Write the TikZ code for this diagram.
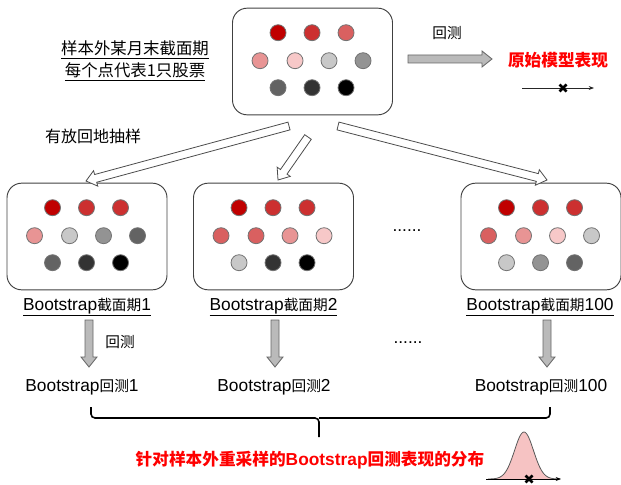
\documentclass[tikz,border=0pt]{standalone}
\usepackage{fontspec}
\setmainfont{Liberation Sans}
\newfontfamily\cjk{Noto Sans CJK SC}
\usetikzlibrary{calc,arrows.meta}

\definecolor{dotA}{HTML}{C00000}
\definecolor{dotB}{HTML}{CC3030}
\definecolor{dotC}{HTML}{D96060}
\definecolor{dotD}{HTML}{E89494}
\definecolor{dotE}{HTML}{F7C8C8}
\definecolor{dotF}{HTML}{C8C8C8}
\definecolor{dotG}{HTML}{939393}
\definecolor{dotH}{HTML}{636363}
\definecolor{dotI}{HTML}{333333}
\definecolor{dotJ}{HTML}{000000}
\definecolor{hlred}{HTML}{FF0000}
\definecolor{distpink}{HTML}{F6C3C3}

\tikzset{
  box/.style={draw=black!75, line width=0.7pt, rounded corners=11pt, minimum width=120pt, minimum height=80pt, inner sep=0pt},
  dot/.style={draw=black!55, line width=0.6pt},
  zh/.style={font=\cjk\fontsize{11}{13}\selectfont},
  lab/.style={font=\fontsize{13}{15}\selectfont, inner sep=1pt},
  hollow/.style={draw=black!70, fill=white, line width=0.6pt},
  grayarr/.style={draw=black!60, fill=black!27, line width=0.6pt},
  brace/.style={line width=1.2pt, rounded corners=3pt},
}
\newcommand\zhs[1]{{\cjk\fontsize{11}{13}\selectfont #1}}
\newcommand\zhb[1]{{\cjk\fontsize{12.5}{15}\selectfont #1}}
% fat block arrow from one named coordinate to another
\def\fatarrow[#1](#2)(#3){%
  \coordinate (fa) at ($(#3)!7.5pt!(#2)$);
  \draw[#1] ($(#2)!3pt!90:(#3)$) -- ($(fa)!3pt!90:(#3)$) -- ($(fa)!6pt!90:(#3)$) -- (#3)
    -- ($(fa)!6pt!-90:(#3)$) -- ($(fa)!3pt!-90:(#3)$) -- ($(#2)!3pt!-90:(#3)$) -- cycle;}
% ten stocks inside a box
\def\stocks(#1)#2{%
  \foreach \c [count=\i] in {#2} {
    \pgfmathsetmacro\dx{{46,80,114,28,63,97,131,46,80,114}[\i-1]}
    \pgfmathsetmacro\dy{{25,25,25,53,53,53,53,80,80,80}[\i-1]}
    \draw[dot, fill=\c] ($(#1.north west)+(\dx,\dy)$) circle (6pt);
  }}
\def\cross(#1,#2){\draw[line width=2pt] (#1-3.5,#2-3.5) -- (#1+3.5,#2+3.5) (#1-3.5,#2+3.5) -- (#1+3.5,#2-3.5);}

\begin{document}
\begin{tikzpicture}[x=0.75pt, y=-0.75pt]
  \useasboundingbox (0,0) rectangle (621,485);

  %%% sample box
  \node[box] (orig) at (312.5,61.5) {};
  \stocks(orig){dotA,dotB,dotC,dotD,dotE,dotF,dotG,dotH,dotI,dotJ}
  \node[zh, font=\cjk\fontsize{12.3}{16.5}\selectfont, align=center] (desc) at (135,61)
    {\underline{样本外某月末截面期}\\\underline{每个点代表1只股票}};

  %%% original backtest
  \coordinate (oa) at (408,59);
  \coordinate (ob) at (492,59);
  \fatarrow[grayarr](oa)(ob)
  \node[zh] (bt0) at (447,33) {回测};
  \node[font=\cjk\bfseries\fontsize{12.5}{15}\selectfont, text=hlred] (perf) at (558,60) {原始模型表现};
  \draw[black!85, line width=0.6pt, -{Stealth[length=4pt]}] (522,88) -- (594,88);
  \cross(563,88)

  %%% bootstrap boxes
  \node[box] (b1) at (87,236.5) {};
  \node[box] (b2) at (273.5,236.5) {};
  \node[box] (b3) at (541,236.5) {};
  \stocks(b1){dotA,dotB,dotB,dotD,dotF,dotG,dotH,dotH,dotI,dotJ}
  \stocks(b2){dotA,dotB,dotB,dotC,dotC,dotD,dotE,dotF,dotI,dotJ}
  \stocks(b3){dotA,dotB,dotB,dotC,dotD,dotE,dotF,dotF,dotG,dotH}
  \node[font=\fontsize{13}{15}\selectfont] (gap1) at (407,231) {......};

  %%% resampling arrows
  \coordinate (s1) at (289,126);
  \coordinate (e1) at (86,181);
  \coordinate (s2) at (308,137);
  \coordinate (e2) at (278,180);
  \coordinate (s3) at (338,126);
  \coordinate (e3) at (547,180);
  \fatarrow[hollow](s1)(e1)
  \fatarrow[hollow](s2)(e2)
  \fatarrow[hollow](s3)(e3)
  \node[zh, font=\cjk\fontsize{12}{14}\selectfont] (draw) at (93,136) {有放回地抽样};

  %%% labels under boxes
  \node[lab] (l1) at (87,307) {\underline{Bootstrap\zhs{截面期}1}};
  \node[lab] (l2) at (273.5,307) {\underline{Bootstrap\zhs{截面期}2}};
  \node[lab] (l3) at (540,307) {\underline{Bootstrap\zhs{截面期}100}};

  %%% backtests
  \node[lab] (r1) at (82,387) {Bootstrap\zhs{回测}1};
  \node[lab] (r2) at (274,387) {Bootstrap\zhs{回测}2};
  \node[lab] (r3) at (541,387) {Bootstrap\zhs{回测}100};
  \coordinate (d1a) at (89,320);
  \coordinate (d1b) at (89,367);
  \coordinate (d2a) at (275,320);
  \coordinate (d2b) at (275,367);
  \coordinate (d3a) at (547,320);
  \coordinate (d3b) at (547,367);
  \fatarrow[grayarr](d1a)(d1b)
  \fatarrow[grayarr](d2a)(d2b)
  \fatarrow[grayarr](d3a)(d3b)
  \node[zh] (bt1) at (120,342) {回测};
  \node[font=\fontsize{13}{15}\selectfont] (gap2) at (408,343) {......};

  %%% brace and distribution
  \draw[brace] (91,407) |- (319,418) -- (319,437);
  \draw[brace] (319,418) -| (550,407);
  \node[font=\bfseries\fontsize{13}{15}\selectfont, text=hlred] (dist) at (310,460)
    {\zhb{针对样本外重采样的}Bootstrap\zhb{回测表现的分布}};
  \fill[distpink] plot[domain=-36:36, samples=61] ({524+\x},{479-47*exp(-(\x*\x)/180)}) -- cycle;
  \draw[black!65, line width=0.6pt] plot[domain=-36:36, samples=61] ({524+\x},{479-47*exp(-(\x*\x)/180)});
  \draw[line width=0.6pt, -{Stealth[length=4pt]}] (486,479) -- (561,479);
  \cross(529,479)
\end{tikzpicture}
\end{document}
